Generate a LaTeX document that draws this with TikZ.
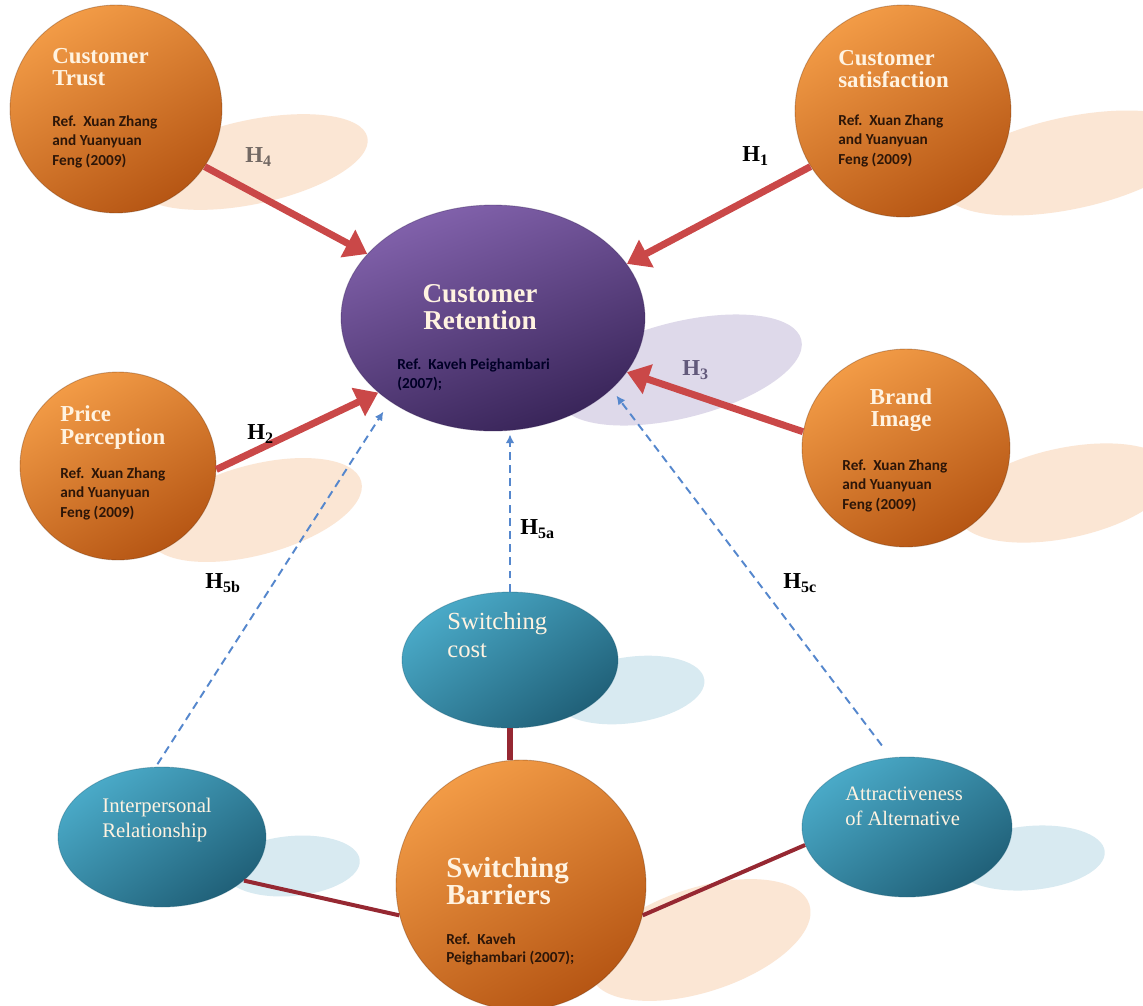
\documentclass[tikz,border=0pt]{standalone}
\usepackage{fontspec}
\setmainfont{Liberation Serif}
\newfontfamily\reffont{Carlito}
\usetikzlibrary{arrows.meta,shapes.geometric}
\definecolor{orA}{RGB}{242,155,70}
\definecolor{orB}{RGB}{182,86,20}
\definecolor{puA}{RGB}{130,98,172}
\definecolor{puB}{RGB}{56,36,88}
\definecolor{teA}{RGB}{74,170,200}
\definecolor{teB}{RGB}{32,96,120}
\definecolor{shP}{RGB}{251,230,212}
\definecolor{shL}{RGB}{222,217,234}
\definecolor{shB}{RGB}{216,234,241}
\definecolor{arR}{RGB}{202,72,72}
\definecolor{lnR}{RGB}{150,40,50}
\definecolor{dsB}{RGB}{85,135,205}
\definecolor{ttlc}{RGB}{255,243,225}
\definecolor{refc}{RGB}{45,22,8}
\definecolor{hgray}{RGB}{115,105,100}
\begin{document}
\begin{tikzpicture}[x=0.02cm,y=-0.02cm,
  ball/.style={ellipse, inner sep=0pt, line width=0.5pt, draw opacity=0.35},
  orball/.style={ball, top color=orA, bottom color=orB, shading angle=30, draw=orB!60!black},
  puball/.style={ball, top color=puA, bottom color=puB, shading angle=20, draw=puB},
  teball/.style={ball, top color=teA, bottom color=teB, shading angle=35, draw=teB},
  shadowP/.style={fill=shP},
  shadowL/.style={fill=shL},
  shadowB/.style={fill=shB},
  ttl/.style={text=ttlc, inner sep=0pt, align=left, anchor=north west},
  reftxt/.style={text=refc, inner sep=0pt, align=left, anchor=north west,
     font=\reffont\bfseries\fontsize{8.7}{11.3}\selectfont},
  hlab/.style={inner sep=0pt, anchor=west, font=\bfseries\fontsize{13}{15}\selectfont},
  redarrow/.style={draw=arR, line width=0.14cm, -{Triangle[width=0.6cm,length=0.44cm]}},
  bluearrow/.style={draw=dsB, line width=1.1pt, dash pattern=on 4.5pt off 3pt, -{Latex[width=5pt,length=5pt]}},
  tieline/.style={draw=lnR, line cap=butt}
]
\useasboundingbox (0,0) rectangle (1143,1005);
\clip (0,0) rectangle (1143,1005);
\fill[white] (0,0) rectangle (1143,1005);

% shadows
\fill[shadowP] (252,162) ellipse[x radius=118, y radius=42, rotate=12];
\fill[shadowP] (1070,163) ellipse[x radius=130, y radius=46, rotate=12];
\fill[shadowL] (680,370) ellipse[x radius=125, y radius=48, rotate=14];
\fill[shadowP] (255,510) ellipse[x radius=110, y radius=45, rotate=15];
\fill[shadowP] (1065,493) ellipse[x radius=110, y radius=45, rotate=12];
\fill[shadowB] (630,690) ellipse[x radius=75, y radius=33, rotate=8];
\fill[shadowB] (292,866) ellipse[x radius=68, y radius=30, rotate=5];
\fill[shadowB] (1030,858) ellipse[x radius=75, y radius=32, rotate=5];
\fill[shadowP] (700,940) ellipse[x radius=115, y radius=52, rotate=18];

% balls
\node[orball, minimum width=4.24cm, minimum height=4.16cm] (trust) at (116,109) {};
\node[orball, minimum width=4.32cm, minimum height=4.24cm] (sat) at (903,111) {};
\node[puball, minimum width=6.08cm, minimum height=4.52cm] (ret) at (493,318) {};
\node[orball, minimum width=3.92cm, minimum height=3.76cm] (price) at (118,466) {};
\node[orball, minimum width=4.16cm, minimum height=3.96cm] (brand) at (906,448) {};
\node[teball, minimum width=4.32cm, minimum height=2.72cm] (scost) at (510,660) {};
\node[teball, minimum width=4.16cm, minimum height=2.8cm] (interp) at (162,837) {};
\node[teball, minimum width=4.2cm, minimum height=2.8cm] (attr) at (907,827) {};
\node[orball, minimum width=5cm, minimum height=5cm] (barr) at (521,885) {};

% connectors
\draw[redarrow] (trust.327) -- (ret.153);
\draw[redarrow] (sat.211) -- (ret.22);
\draw[redarrow] (brand.171) -- (ret.338);
\draw[redarrow] (price.358) -- (ret.213);
\draw[bluearrow, shorten >=0.24cm, shorten <=0.06cm] (interp.95) -- (ret.219);
\draw[bluearrow, shorten >=0.06cm] (scost.north) -- (scost.north |- ret.south);
\draw[bluearrow, shorten >=0.16cm, shorten <=0.3cm] (attr.103) -- (ret.329);
\draw[tieline, line width=0.12cm] (scost.south) -- (scost.south |- barr.north);
\draw[tieline, line width=0.08cm] (interp.332) -- (barr.194);
\draw[tieline, line width=0.08cm] (barr.346) -- (attr.190);

% titles
\node[ttl, font=\bfseries\fontsize{13}{12.5}\selectfont] (t1) at (52,48) {Customer\\Trust};
\node[reftxt] (r1) at (52,115) {Ref.\ \ Xuan Zhang\\and Yuanyuan\\Feng (2009)};
\node[ttl, font=\bfseries\fontsize{13}{12.5}\selectfont] (t2) at (838,50) {Customer\\satisfaction};
\node[reftxt] (r2) at (838,114) {Ref.\ \ Xuan Zhang\\and Yuanyuan\\Feng (2009)};
\node[ttl, align=center, anchor=north, font=\bfseries\fontsize{15.5}{15.5}\selectfont] (t3) at (480,284) {Customer\\Retention};
\node[reftxt, text=black!85!blue] (r3) at (397,358) {Ref.\ \ Kaveh Peighambari\\(2007);};
\node[ttl, font=\bfseries\fontsize{13}{13}\selectfont] (t4) at (60,405) {Price\\Perception};
\node[reftxt] (r4) at (60,467) {Ref.\ \ Xuan Zhang\\and Yuanyuan\\Feng (2009)};
\node[ttl, align=center, anchor=north, font=\bfseries\fontsize{13}{12.5}\selectfont] (t5) at (901,388) {Brand\\Image};
\node[reftxt] (r5) at (842,459) {Ref.\ \ Xuan Zhang\\and Yuanyuan\\Feng (2009)};
\node[ttl, font=\fontsize{14}{15.9}\selectfont] (t6) at (447,612) {Switching\\cost};
\node[ttl, font=\fontsize{11.8}{14.2}\selectfont] (t7) at (102,798) {Interpersonal\\Relationship};
\node[ttl, font=\fontsize{11.7}{14.2}\selectfont] (t8) at (845,787) {Attractiveness\\of Alternative};
\node[ttl, font=\bfseries\fontsize{16.5}{15.5}\selectfont] (t9) at (446,857) {Switching\\Barriers};
\node[reftxt, font=\reffont\bfseries\fontsize{8.7}{10.2}\selectfont] (r9) at (446,933) {Ref.\ \ Kaveh\\Peighambari (2007);};

% hypothesis labels
\node[hlab, text=hgray] (h4) at (245,157) {H\textsubscript{4}};
\node[hlab] (h1) at (742,156) {H\textsubscript{1}};
\node[hlab, text=hgray!85!blue] (h3) at (682,370) {H\textsubscript{3}};
\node[hlab] (h2) at (247,434) {H\textsubscript{2}};
\node[hlab] (h5a) at (520,529) {H\textsubscript{5a}};
\node[hlab] (h5b) at (205,583) {H\textsubscript{5b}};
\node[hlab] (h5c) at (783,583) {H\textsubscript{5c}};
\end{tikzpicture}
\end{document}
